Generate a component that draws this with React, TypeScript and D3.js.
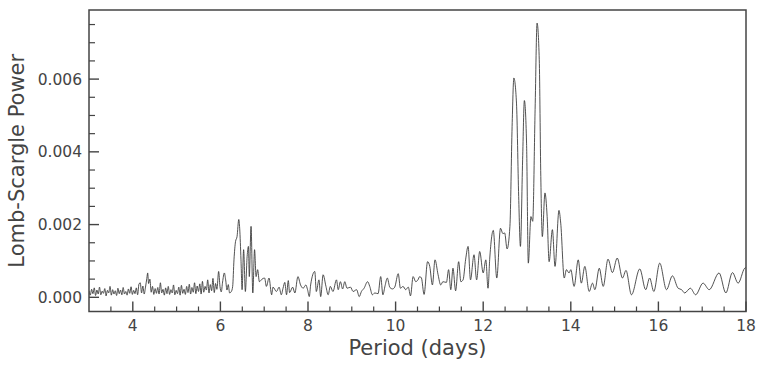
import React from 'react';
import * as d3 from 'd3';

// power values are in units of 1e-3
const noiseBand: [number, number][] = [
  [3.00, .18], [3.03, .06], [3.06, .22], [3.09, .10], [3.12, .26], [3.15, .05], [3.18, .20], [3.21, .09],
  [3.24, .28], [3.27, .07], [3.30, .17], [3.33, .11], [3.36, .24], [3.39, .04], [3.42, .19], [3.45, .12],
  [3.48, .30], [3.51, .06], [3.54, .21], [3.57, .09], [3.60, .18], [3.63, .05], [3.66, .25], [3.69, .10],
  [3.72, .20], [3.75, .07], [3.78, .27], [3.81, .09], [3.84, .16], [3.87, .06], [3.90, .23], [3.93, .11],
  [3.96, .29], [3.99, .08], [4.02, .19], [4.05, .10], [4.08, .26], [4.11, .07], [4.14, .36], [4.17, .40],
  [4.20, .12], [4.23, .31], [4.26, .09], [4.29, .28], [4.32, .52], [4.34, .67], [4.36, .38], [4.39, .50],
  [4.42, .14], [4.45, .30], [4.48, .08], [4.51, .24], [4.54, .11], [4.57, .27], [4.60, .09], [4.63, .40],
  [4.66, .12], [4.69, .22], [4.72, .06], [4.75, .26], [4.78, .10], [4.81, .30], [4.84, .08], [4.87, .21],
  [4.90, .12], [4.93, .34], [4.96, .07], [4.99, .19], [5.02, .10], [5.05, .28], [5.08, .06], [5.11, .33],
  [5.14, .11], [5.17, .22], [5.20, .08], [5.23, .30], [5.26, .13], [5.29, .36], [5.32, .09], [5.35, .27],
  [5.38, .14], [5.41, .40], [5.44, .10], [5.47, .31], [5.50, .16], [5.53, .37], [5.56, .09], [5.59, .44],
  [5.62, .14], [5.65, .30], [5.68, .20], [5.71, .48], [5.74, .12], [5.77, .35], [5.80, .18], [5.83, .52],
  [5.86, .13], [5.89, .38], [5.92, .22], [5.96, .71], [5.99, .30], [6.02, .15], [6.05, .42], [6.09, .67],
  [6.12, .48], [6.15, .20], [6.18, .35], [6.21, .12], [6.25, .16],
];

const bump64: [number, number][] = [
  [6.28, .30], [6.31, 1.03], [6.345, 1.53], [6.38, 1.67], [6.42, 2.14], [6.44, 1.90], [6.47, 1.03],
  [6.495, .21], [6.53, 1.31], [6.57, .16], [6.61, 1.12], [6.64, 1.40], [6.66, .57], [6.70, 1.95],
  [6.74, .12], [6.78, 1.31], [6.815, .57], [6.85, .76], [6.89, .43], [6.95, .50],
];

const midRange: [number, number][] = [
  [7.01, .53], [7.05, .30], [7.11, .53], [7.17, .07], [7.20, .28], [7.28, .16], [7.34, .28], [7.39, .07],
  [7.43, .25], [7.47, .41], [7.51, .07], [7.55, .46], [7.58, .13], [7.65, .28], [7.70, .12], [7.77, .57],
  [7.83, .34], [7.89, .25], [7.95, .34], [7.99, .21], [8.03, .02], [8.06, .34], [8.155, .71], [8.19, .16],
  [8.25, .48], [8.29, .02], [8.345, .62], [8.41, .30], [8.46, .07], [8.51, .30], [8.57, .16], [8.65, .48],
  [8.69, .21], [8.74, .43], [8.79, .23], [8.84, .43], [8.89, .25], [8.97, .28], [9.03, .16], [9.11, .21],
  [9.17, .02], [9.22, .16], [9.28, .25], [9.36, .43], [9.41, .30], [9.47, .07], [9.525, .12], [9.60, .10],
  [9.66, .57], [9.71, .07], [9.76, .32], [9.81, .53], [9.87, .27], [9.93, .23], [9.98, .28], [10.06, .65],
  [10.11, .25], [10.17, .30], [10.23, .21], [10.29, .28], [10.34, .04], [10.40, .57], [10.46, .43],
  [10.51, .48], [10.55, .57], [10.59, .53], [10.65, .08], [10.73, .98], [10.78, .85], [10.84, .34],
  [10.90, 1.03], [10.97, .62], [11.03, .34], [11.08, .43], [11.16, .41], [11.21, .76], [11.26, .21],
  [11.31, .80], [11.37, .18], [11.44, .98], [11.49, .43], [11.54, .48], [11.60, 1.05], [11.655, 1.40],
  [11.71, .48], [11.79, 1.17], [11.85, .48], [11.92, 1.26], [12.00, .67], [12.06, 1.03], [12.11, .25],
  [12.15, 1.08],
];

const mainPeaks: [number, number][] = [
  [12.23, 1.84], [12.31, .53], [12.395, 1.90], [12.45, 1.75], [12.49, 1.77], [12.545, 1.33], [12.61, 1.95],
  [12.66, 4.70], [12.70, 6.03], [12.76, 5.34], [12.81, 2.77], [12.85, 1.40], [12.90, 3.78], [12.94, 5.41],
  [12.99, 4.24], [13.03, .94], [13.09, 2.22], [13.13, 2.09], [13.185, 5.16], [13.23, 7.54], [13.28, 6.53],
  [13.315, 3.32], [13.35, 1.67], [13.41, 2.87], [13.46, 2.22], [13.505, .98], [13.58, 1.86], [13.64, .85],
  [13.73, 2.39], [13.77, 2.04], [13.85, .53], [13.90, .76], [13.96, .67], [14.00, .76],
];

const tail: [number, number][] = [
  [14.075, .30], [14.17, 1.03], [14.24, .39], [14.32, .85], [14.42, .16], [14.495, .39], [14.55, .21],
  [14.65, .80], [14.74, .30], [14.85, 1.05], [14.95, .68], [15.06, 1.08], [15.18, .53], [15.26, .74],
  [15.385, .07], [15.575, .78], [15.71, .21], [15.80, .53], [15.895, .16], [16.03, .94], [16.185, .21],
  [16.32, .59], [16.45, .25], [16.53, .21], [16.60, .12], [16.73, .25], [16.85, .07], [17.02, .39],
  [17.16, .21], [17.385, .67], [17.54, .12], [17.69, .68], [17.82, .39], [17.97, .80], [18.0, .82],
];

const xTickLabels = ['4', '6', '8', '10', '12', '14', '16', '18'];
const yTickLabels = ['0.000', '0.002', '0.004', '0.006'];

const W = 767;
const H = 368;
const margin = { top: 10, right: 21, bottom: 56.5, left: 89 };
const ink = '#444';
const font = 'DejaVu Sans, sans-serif';

export default function App() {
  const innerW = W - margin.left - margin.right;
  const innerH = H - margin.top - margin.bottom;

  const x = d3.scaleLinear().domain([3, 18]).range([0, innerW]);
  const y = d3.scaleLinear().domain([-0.00039, 0.0079]).range([innerH, 0]);

  const series = [...noiseBand, ...bump64, ...midRange, ...mainPeaks, ...tail];

  const line = d3.line<[number, number]>()
    .x(d => x(d[0]))
    .y(d => y(d[1] / 1000))
    .curve(d3.curveMonotoneX);

  const xMajor = xTickLabels.map(Number);
  const xMinor = d3.range(3.5, 18, 0.5).filter(v => !xMajor.includes(v));
  const yMajor = yTickLabels.map(Number);
  const yMinor = d3.range(0.0005, 0.0079, 0.0005).filter(v => !yMajor.some(m => Math.abs(m - v) < 1e-9));

  return (
    <svg width={W} height={H} style={{ position: 'absolute', left: 0, top: 0, background: '#fff' }}>
      <g transform={`translate(${margin.left},${margin.top})`}>
        <clipPath id="plot-clip">
          <rect x={0} y={0} width={innerW} height={innerH} />
        </clipPath>
        <path d={line(series) ?? ''} fill="none" stroke="#333" strokeWidth={0.85} clipPath="url(#plot-clip)" />

        {/* x ticks, pointing inward */}
        {xMinor.map(v => (
          <line key={'xm' + v} x1={x(v)} x2={x(v)} y1={innerH} y2={innerH - 5} stroke={ink} strokeWidth={1.2} />
        ))}
        {xMajor.map((v, i) => (
          <g key={'xM' + v}>
            <line x1={x(v)} x2={x(v)} y1={innerH} y2={innerH - 10} stroke={ink} strokeWidth={1.4} />
            <text x={x(v)} y={innerH + 19} textAnchor="middle" fontFamily={font} fontSize={15.5} fill={ink}>
              {xTickLabels[i]}
            </text>
          </g>
        ))}

        {/* y ticks */}
        {yMinor.map(v => (
          <line key={'ym' + v} x1={0} x2={6} y1={y(v)} y2={y(v)} stroke={ink} strokeWidth={1.2} />
        ))}
        {yMajor.map((v, i) => (
          <g key={'yM' + v}>
            <line x1={0} x2={10} y1={y(v)} y2={y(v)} stroke={ink} strokeWidth={1.4} />
            <text x={-7} y={y(v)} dy="0.36em" textAnchor="end" fontFamily={font} fontSize={15.5} fill={ink}>
              {yTickLabels[i]}
            </text>
          </g>
        ))}

        <rect x={0} y={0} width={innerW} height={innerH} fill="none" stroke={ink} strokeWidth={1.5} />

        <text x={innerW / 2} y={innerH + 43} textAnchor="middle" fontFamily={font} fontSize={21} fill={ink}>
          Period (days)
        </text>
        <text
          transform={`translate(${-65},${innerH / 2}) rotate(-90)`}
          textAnchor="middle"
          fontFamily={font}
          fontSize={21}
          fill={ink}
        >
          Lomb-Scargle Power
        </text>
      </g>
    </svg>
  );
}
